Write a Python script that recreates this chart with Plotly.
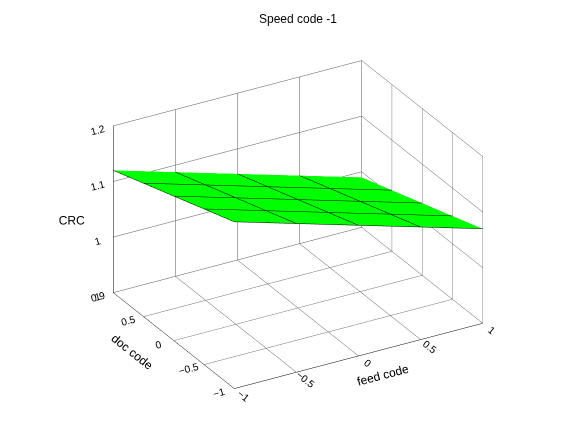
import numpy as np
import plotly.graph_objects as go

feed = [-1, -0.5, 0, 0.5, 1]
doc = [-1, -0.5, 0, 0.5, 1]
# CRC at the four corners, plane through them
crc_corner = {(-1, -1): 1.20, (-1, 1): 1.12, (1, -1): 1.07, (1, 1): 0.99}

z = []
for d in doc:
    row = []
    for f in feed:
        u = (f + 1) / 2
        v = (d + 1) / 2
        row.append((1-u)*(1-v)*crc_corner[(-1, -1)] + u*(1-v)*crc_corner[(1, -1)]
                   + (1-u)*v*crc_corner[(-1, 1)] + u*v*crc_corner[(1, 1)])
    z.append(row)

fig = go.Figure(go.Surface(
    x=feed, y=doc, z=z,
    colorscale=[[0, '#00ff00'], [1, '#00ff00']],
    showscale=False,
    lighting=dict(ambient=1, diffuse=0, specular=0),
    contours=dict(
        x=dict(show=True, start=-1, end=1, size=0.5, color='black', width=1),
        y=dict(show=True, start=-1, end=1, size=0.5, color='black', width=1),
    ),
))

fnt = dict(size=12, family='Liberation Sans', color='black')
ax = dict(showbackground=False, gridcolor='#555', gridwidth=1,
          linecolor='black', showline=True, zeroline=False,
          tickfont=dict(size=11, family='Liberation Sans', color='black'))

fig.update_layout(
    width=580, height=441,
    paper_bgcolor='white',
    margin=dict(l=0, r=0, t=0, b=0),
    title=dict(text='Speed code -1', x=0.5, y=0.985, font=fnt),
    scene=dict(
        xaxis=dict(ax, title=dict(text='feed code', font=fnt), range=[-1, 1],
                   tickvals=[-1, -0.5, 0, 0.5, 1]),
        yaxis=dict(ax, title=dict(text='doc code', font=fnt), range=[-1, 1],
                   tickvals=[-1, -0.5, 0, 0.5, 1]),
        zaxis=dict(ax, title=dict(text='CRC', font=fnt), range=[0.9, 1.2],
                   tickvals=[0.9, 1, 1.1, 1.2]),
        aspectmode='manual', aspectratio=dict(x=1.3, y=1.1, z=0.85),
        camera=dict(eye=dict(x=-0.72, y=-1.25, z=0.72),
                    center=dict(x=0, y=0, z=-0.02),
                    projection=dict(type='orthographic')),
    ),
)

fig.write_html("out.html")
